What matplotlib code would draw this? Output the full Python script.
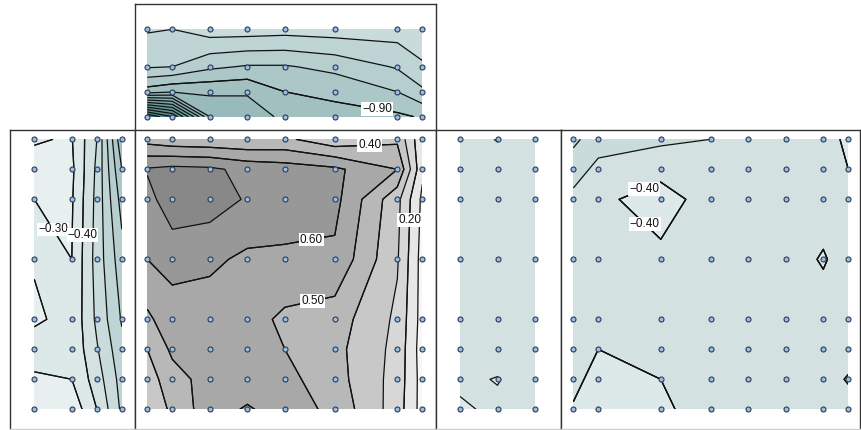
import numpy as np
import matplotlib
matplotlib.use("Agg")
import matplotlib.pyplot as plt

# sample positions of each panel (rows are listed top to bottom)
x_wide = [0, 2, 5, 8, 11, 15, 20, 22]      # top and centre panels
y_top = [0, 3, 5, 7]                       # top panel
y_rows = [0, 1, 2, 4, 6, 7, 8, 9]          # all lower panels
x_left = [0, 3, 5, 7]
x_mid = [0, 3, 6]
x_right = [0, 2, 7, 11, 14, 17, 20, 22]

z_top = [
    [-0.59, -0.60, -0.55, -0.55, -0.56, -0.55, -0.55, -0.55],
    [-0.69, -0.70, -0.78, -0.81, -0.81, -0.77, -0.69, -0.61],
    [-0.95, -0.99, -0.98, -0.99, -0.90, -0.88, -0.80, -0.72],
    [-2.00, -1.80, -1.10, -1.05, -0.98, -0.93, -0.92, -0.89],
]

z_left = [
    [-0.305, -0.295, -0.50, -0.98],
    [-0.28, -0.28, -0.52, -0.90],
    [-0.30, -0.29, -0.53, -0.84],
    [-0.305, -0.30, -0.54, -0.76],
    [-0.29, -0.32, -0.52, -0.71],
    [-0.33, -0.32, -0.49, -0.67],
    [-0.29, -0.30, -0.45, -0.64],
    [-0.26, -0.23, -0.40, -0.62],
]

z_center = [
    [0.46, 0.43, 0.42, 0.41, 0.42, 0.33, 0.38, 0.12],
    [0.71, 0.73, 0.72, 0.67, 0.65, 0.62, 0.50, 0.12],
    [0.66, 0.77, 0.75, 0.69, 0.66, 0.63, 0.33, 0.08],
    [0.60, 0.63, 0.62, 0.58, 0.58, 0.58, 0.31, 0.06],
    [0.48, 0.56, 0.55, 0.54, 0.48, 0.45, 0.28, 0.06],
    [0.40, 0.52, 0.55, 0.56, 0.50, 0.43, 0.27, 0.05],
    [0.35, 0.46, 0.54, 0.55, 0.53, 0.44, 0.26, 0.06],
    [0.32, 0.42, 0.56, 0.61, 0.56, 0.47, 0.25, 0.06],
]

z_mid = [
    [-0.45, -0.395, -0.45],
    [-0.45, -0.45, -0.45],
    [-0.45, -0.45, -0.45],
    [-0.45, -0.45, -0.45],
    [-0.45, -0.45, -0.45],
    [-0.45, -0.45, -0.45],
    [-0.42, -0.395, -0.45],
    [-0.385, -0.42, -0.45],
]

z_right = [
    [-0.62, -0.55, -0.52, -0.50, -0.46, -0.45, -0.44, -0.38],
    [-0.55, -0.47, -0.43, -0.45, -0.45, -0.45, -0.42, -0.40],
    [-0.47, -0.42, -0.36, -0.44, -0.45, -0.45, -0.45, -0.45],
    [-0.45, -0.41, -0.42, -0.45, -0.45, -0.45, -0.39, -0.45],
    [-0.45, -0.44, -0.45, -0.45, -0.45, -0.45, -0.45, -0.45],
    [-0.44, -0.40, -0.45, -0.45, -0.45, -0.45, -0.45, -0.45],
    [-0.43, -0.36, -0.40, -0.45, -0.45, -0.45, -0.45, -0.39],
    [-0.39, -0.35, -0.38, -0.45, -0.45, -0.45, -0.45, -0.45],
]

# labelled contour values and where they sit
lab_top = [(-0.9, (18.4, 6.3))]
lab_left = [(-0.3, (1.9, 2.9)), (-0.4, (4.3, 3.2))]
lab_center = [(0.4, (17.8, 0.3)), (0.2, (21.3, 2.7)), (0.6, (13.2, 3.5)), (0.5, (13.3, 5.5))]
lab_right = [(-0.4, (5.6, 1.6)), (-0.4, (4.6, 3.3))]

W, H = 861, 430
levels = np.round(np.arange(-2.1, 0.95, 0.1), 2)


def band_color(v):
    if v < 0:
        t = min(0.455 * abs(v), 1.0)
        return (1 - t * (1 - 40 / 255), 1 - t * (1 - 110 / 255), 1 - t * (1 - 110 / 255))
    g = 1 - 0.62 * v
    return (g, g, g)


fills = [band_color(0.5 * (a + b)) for a, b in zip(levels[:-1], levels[1:])]


def rect(x0, y0, x1, y1):
    return [x0 / W, 1 - y1 / H, (x1 - x0) / W, (y1 - y0) / H]


def fmt(v):
    return f"{v:.2f}".replace("-", "\u2212")


def box(x0, y0, x1, y1):
    ax = fig.add_axes(rect(x0, y0, x1, y1), zorder=0)
    ax.set_xticks([])
    ax.set_yticks([])
    for s in ax.spines.values():
        s.set_color("#333333")
        s.set_linewidth(1.0)
    ax.spines["bottom"].set_color("#cfcfcf")


def panel(area, x, y, z, labels):
    ax = fig.add_axes(rect(*area), zorder=2)
    X, Y = np.meshgrid(x, y)
    Z = np.array(z)
    ax.contourf(X, Y, Z, levels=levels, colors=fills)
    ax.contour(X, Y, Z, levels=levels, colors="#111111",
               linewidths=0.9, linestyles="solid")
    for val, pos in labels:
        cl = ax.contour(X, Y, Z, levels=[val], colors="#111111",
                        linewidths=0.9, linestyles="solid")
        txt = ax.clabel(cl, manual=[pos], inline=False, fmt=fmt, fontsize=8.5)
        for t in txt:
            t.set_rotation(0)
            t.set_bbox(dict(facecolor="white", edgecolor="none", pad=0.6))
            t.set_zorder(4)
    ax.plot(X.ravel(), Y.ravel(), "o", ms=3.6, mfc="#9dbde0", mec="#2b3b58",
            mew=0.8, clip_on=False, zorder=5)
    ax.set_xlim(x[0], x[-1])
    ax.set_ylim(y[-1], y[0])
    ax.axis("off")


plt.rcParams["font.family"] = ["Liberation Sans", "DejaVu Sans"]
fig = plt.figure(figsize=(W / 100, H / 100), dpi=100)

box(135, 4, 436, 129.5)
box(10, 129.5, 135, 428.5)
box(135, 129.5, 436, 428.5)
box(436, 129.5, 561, 428.5)
box(561, 129.5, 860, 428.5)

panel((147.3, 29.3, 422.3, 116.7), x_wide, y_top, z_top, lab_top)
panel((34.3, 139.3, 121.8, 409.3), x_left, y_rows, z_left, lab_left)
panel((147.3, 139.3, 422.3, 409.3), x_wide, y_rows, z_center, lab_center)
panel((460, 139.3, 535, 409.3), x_mid, y_rows, z_mid, [])
panel((573.3, 139.3, 848.3, 409.3), x_right, y_rows, z_right, lab_right)

fig.savefig("out.png", dpi=100)
